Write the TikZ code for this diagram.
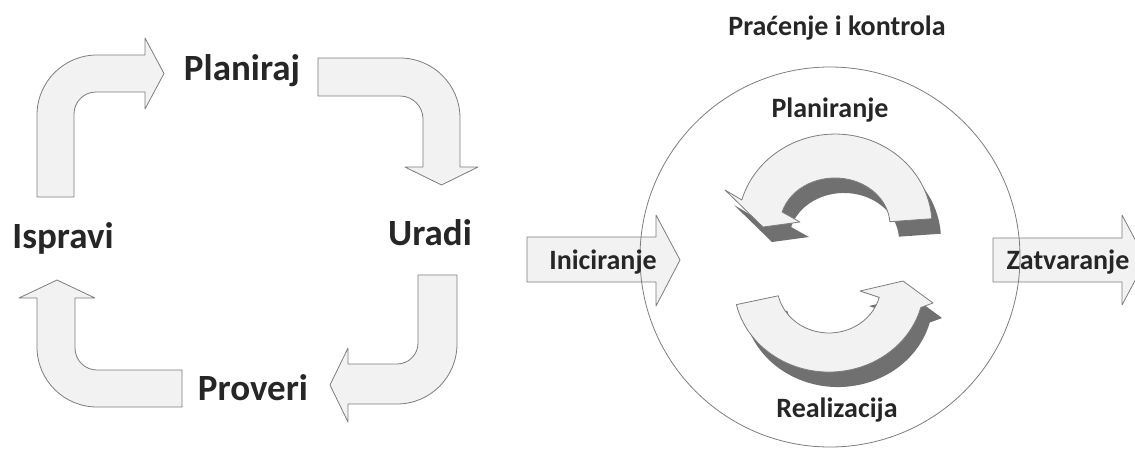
\documentclass[tikz,border=0pt]{standalone}
\usepackage{fontspec}
\setmainfont{Carlito}
\definecolor{arrowfill}{RGB}{242,242,242}
\definecolor{arrowline}{RGB}{125,125,125}
\definecolor{shadowgray}{RGB}{112,112,112}
\definecolor{labeltext}{RGB}{38,38,38}
\tikzset{
  blockarrow/.style={draw=arrowline, fill=arrowfill, line width=0.8pt, line join=round},
  shadowarrow/.style={fill=shadowgray, draw=none},
  biglabel/.style={font=\bfseries\fontsize{37}{40}\selectfont, text=labeltext, inner sep=0pt, anchor=base},
  smalllabel/.style={font=\bfseries\fontsize{28}{32}\selectfont, text=labeltext, inner sep=0pt, anchor=base},
}
\begin{document}
\begin{tikzpicture}[x=1pt,y=-1pt]
    \useasboundingbox (0,0) rectangle (1135,448);

    % PDCA cycle, bent arrows
    \draw[blockarrow] (37,197) -- (37,115) arc[start angle=180, end angle=270, radius=60] -- (145,55) -- (145,38) -- (164,73.5) -- (145,109) -- (145,92) -- (96,92) arc[start angle=270, end angle=180, radius=22] -- (74,197) -- cycle;
    \draw[blockarrow] (318,58) -- (400,58) arc[start angle=270, end angle=360, radius=60] -- (460,167) -- (478,167) -- (441.5,185) -- (405,167) -- (423,167) -- (423,119) arc[start angle=0, end angle=-90, radius=23] -- (318,96) -- cycle;
    \draw[blockarrow] (418,275) -- (418,343) arc[start angle=0, end angle=90, radius=21] -- (348,364) -- (348,348) -- (330,385) -- (348,422) -- (348,404) -- (397,404) arc[start angle=90, end angle=0, radius=60] -- (457,275) -- cycle;
    \draw[blockarrow] (182,370) -- (97,370) arc[start angle=90, end angle=180, radius=22] -- (75,298) -- (95,298) -- (57,280) -- (19,298) -- (37,298) -- (37,347) arc[start angle=180, end angle=90, radius=60] -- (182,407) -- cycle;

    % PDCA labels
    \node[biglabel] (planiraj) at (242,80) {Planiraj};
    \node[biglabel] (uradi) at (430,245) {Uradi};
    \node[biglabel] (proveri) at (253,400) {Proveri};
    \node[biglabel] (ispravi) at (63,248) {Ispravi};

    % Phases, in and out arrows
    \draw[blockarrow] (527,237) -- (656,237) -- (656,215) -- (680,260) -- (656,306) -- (656,282) -- (527,282) -- cycle;
    \draw[blockarrow] (993,238) -- (1122,238) -- (1122,215) -- (1146,260) -- (1122,305) -- (1122,282) -- (993,282) -- cycle;

    % Circular arrows, shadow first
    \fill[shadowarrow, shift={(9,15)}] (931.8,218.7) arc[start angle=-4, end angle=-164, x radius=97, y radius=91] -- (725,190) -- (763,227) -- (800,222) -- (782.1,212.0) arc[start angle=-164, end angle=-4, x radius=55, y radius=47] -- cycle;
    \draw[blockarrow] (931.8,218.7) arc[start angle=-4, end angle=-164, x radius=97, y radius=91] -- (725,190) -- (763,227) -- (800,222) -- (782.1,212.0) arc[start angle=-164, end angle=-4, x radius=55, y radius=47] -- cycle;
    \fill[shadowarrow, shift={(9,15)}] (736.4,304.6) arc[start angle=167, end angle=15, x radius=95, y radius=87] -- (933,303) -- (903,281) -- (860,291) -- (879.2,297.4) arc[start angle=15, end angle=167, x radius=52, y radius=48] -- cycle;
    \draw[blockarrow] (736.4,304.6) arc[start angle=167, end angle=15, x radius=95, y radius=87] -- (933,303) -- (903,281) -- (860,291) -- (879.2,297.4) arc[start angle=15, end angle=167, x radius=52, y radius=48] -- cycle;

    % Monitoring circle
    \draw[arrowline, line width=0.8pt] (830,257) circle[radius=190];

    % Phase labels
    \node[smalllabel] (pracenje) at (837,35) {Praćenje i kontrola};
    \node[smalllabel] (planiranje) at (830,117) {Planiranje};
    \node[smalllabel] (realizacija) at (837,417) {Realizacija};
    \node[smalllabel] (iniciranje) at (603,269) {Iniciranje};
    \node[smalllabel] (zatvaranje) at (1068,269) {Zatvaranje};
\end{tikzpicture}
\end{document}
